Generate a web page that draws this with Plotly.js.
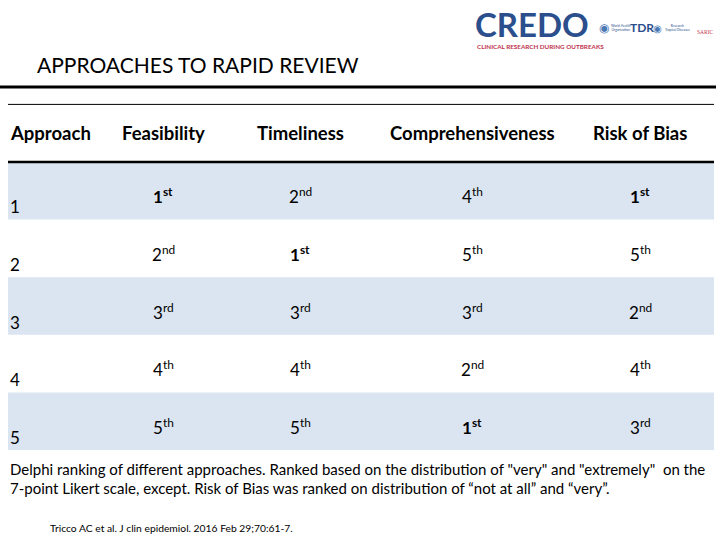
<!DOCTYPE html>
<html>
<head>
<meta charset="utf-8">
<script src="https://cdn.plot.ly/plotly-3.0.1.min.js"></script>
<style>
  html, body { margin: 0; padding: 0; background: #fff; }
  #chart { width: 720px; height: 540px; }
</style>
</head>
<body>
<div id="chart"></div>
<script>
const approaches = ['1', '2', '3', '4', '5'];
const criteria = ['Feasibility', 'Timeliness', 'Comprehensiveness', 'Risk of Bias'];
const feasibility = [1, 2, 3, 4, 5];
const timeliness = [2, 1, 3, 4, 5];
const comprehensiveness = [4, 5, 3, 2, 1];
const riskOfBias = [1, 5, 2, 4, 3];
const suffixes = ['', 'st', 'nd', 'rd', 'th', 'th'];

const ranks = [feasibility, timeliness, comprehensiveness, riskOfBias];

// layout constants (pixels)
const colX = [163, 300, 472, 640];
const labelX = 8;
const font = 'Lato, "Open Sans", sans-serif';

// y axis: row index, 0 = header, 1..5 = approaches
const rowH = 57.6;
const row0 = 133.2;
const yTop = -row0 / rowH;
const yBottom = (540 - row0) / rowH;

function py(p) { return 1 - p / 540; }

function rankText(r) {
    const t = r + '<sup>' + suffixes[r] + '</sup>';
    return r === 1 ? '<b>' + t + '</b>' : t;
}

function label(x, yPix, text, size, color, family) {
    return {
        x: x, y: py(yPix), xref: 'x', yref: 'paper', text: text, showarrow: false,
        xanchor: 'left', yanchor: 'middle', font: {family: family || font, size: size, color: color || '#000'}
    };
}

const annotations = [];
const shapes = [];

// header
annotations.push({
    x: labelX, y: 0, xref: 'x', yref: 'y', text: '<b>Approach</b>', showarrow: false,
    xanchor: 'left', yanchor: 'middle', font: {family: font, size: 18.5, color: '#000'}
});
criteria.forEach((c, j) => {
    annotations.push({
        x: colX[j], y: 0, xref: 'x', yref: 'y', text: '<b>' + c + '</b>', showarrow: false,
        xanchor: 'center', yanchor: 'middle', font: {family: font, size: 18.5, color: '#000'}
    });
});

// rows
approaches.forEach((a, i) => {
    const row = i + 1;
    if (row % 2 === 1) {
        shapes.push({
            type: 'rect', xref: 'x', yref: 'y', x0: 8, x1: 714, y0: row - 0.5, y1: row + 0.5,
            fillcolor: '#dbe5f1', line: {width: 0}, layer: 'below'
        });
    }
    annotations.push({
        x: labelX, y: row, xref: 'x', yref: 'y', text: a, showarrow: false,
        xanchor: 'left', yanchor: 'middle', yshift: -16, font: {family: font, size: 17, color: '#000'}
    });
    ranks.forEach((col, j) => {
        annotations.push({
            x: colX[j], y: row, xref: 'x', yref: 'y', text: rankText(col[i]), showarrow: false,
            xanchor: 'center', yanchor: 'middle', yshift: -5, font: {family: font, size: 17, color: '#000'}
        });
    });
});

// table rules
shapes.push({type: 'line', xref: 'x', yref: 'y', x0: 8, x1: 714, y0: -0.5, y1: -0.5, line: {color: '#000', width: 1}});
shapes.push({type: 'line', xref: 'x', yref: 'y', x0: 8, x1: 714, y0: 0.5, y1: 0.5, line: {color: '#000', width: 2.5}});
// rule under title
shapes.push({type: 'line', xref: 'x', yref: 'paper', x0: 0, x1: 716, y0: py(87), y1: py(87), line: {color: '#000', width: 3}});

// title
annotations.push(label(35, 65, 'APPROACHES TO RAPID REVIEW', 21));

// caption
annotations.push(label(labelX, 469,
    'Delphi ranking of different approaches. Ranked based on the distribution of "very" and "extremely"  on the', 15));
annotations.push(label(labelX, 488,
    '7-point Likert scale, except. Risk of Bias was ranked on distribution of “not at all” and “very”.', 15));
annotations.push(label(48, 528, 'Tricco AC et al. J clin epidemiol. 2016 Feb 29;70:61-7.', 10.3));

// logos (as text)
annotations.push(label(473, 24, '<b>CREDO</b>', 33, '#2b4e8c'));
annotations.push(label(475, 47, '<b>CLINICAL RESEARCH DURING OUTBREAKS</b>', 6.3, '#c0334d'));
annotations.push(label(597, 28, '◉', 12, '#4a78b4'));
annotations.push(label(609, 28, 'World Health<br>Organization', 3.3, '#2b4e8c'));
annotations.push(label(628, 28, '<b>TDR</b>', 12, '#2b4e8c'));
annotations.push(label(651, 28, '◉', 10, '#4a78b4'));
annotations.push(label(663, 28, 'Research<br>Tropical Diseases', 3.3, '#2b4e8c'));
annotations.push(label(695, 32, 'SARIC', 5.5, '#c0334d', 'Liberation Serif'));

const layout = {
    width: 720,
    height: 540,
    margin: {l: 0, r: 0, t: 0, b: 0},
    paper_bgcolor: '#ffffff',
    plot_bgcolor: '#ffffff',
    showlegend: false,
    xaxis: {range: [0, 720], visible: false, fixedrange: true},
    yaxis: {range: [yBottom, yTop], visible: false, fixedrange: true},
    annotations: annotations,
    shapes: shapes,
};

Plotly.newPlot('chart', [], layout, {displayModeBar: false, staticPlot: true});
</script>
</body>
</html>
